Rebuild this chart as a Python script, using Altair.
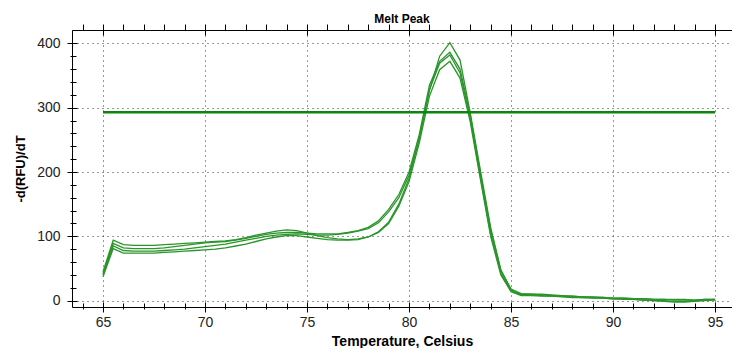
import altair as alt
import pandas as pd

temps = [65, 65.5, 66, 66.5, 67, 67.5, 68, 68.5, 69, 69.5, 70, 70.5, 71, 71.5, 72, 72.5,
         73, 73.5, 74, 74.5, 75, 75.5, 76, 76.5, 77, 77.5, 78, 78.5, 79, 79.5, 80, 80.5,
         81, 81.5, 82, 82.5, 83, 83.5, 84, 84.5, 85, 85.5, 86, 86.5, 87, 87.5, 88, 88.5,
         89, 89.5, 90, 90.5, 91, 91.5, 92, 92.5, 93, 93.5, 94, 94.5, 95]

well_1 = [45, 94, 87, 86, 86, 86, 87, 88, 89, 90, 91, 92, 93, 95, 98, 102,
          105, 108, 110, 109, 105, 101, 98, 96, 95, 96, 99, 107, 122, 150, 190, 252,
          327, 380, 401, 374, 292, 202, 114, 48, 17, 10, 10, 9, 8, 7, 7, 6,
          5, 5, 4, 4, 3, 3, 2, 2, 1, 1, 1, 2, 2]
well_2 = [42, 89, 82, 81, 81, 81, 82, 84, 86, 88, 90, 91, 92, 94, 97, 100,
          103, 105, 106, 106, 105, 104, 104, 104, 106, 109, 114, 124, 142, 165, 200, 258,
          335, 372, 386, 360, 288, 198, 110, 47, 18, 11, 10, 10, 9, 8, 7, 6,
          6, 5, 4, 4, 3, 3, 2, 2, 2, 2, 1, 2, 2]
well_3 = [40, 85, 78, 77, 77, 77, 78, 79, 80, 82, 84, 86, 88, 91, 94, 97,
          100, 102, 103, 104, 103, 102, 102, 103, 105, 108, 112, 121, 138, 160, 195, 252,
          328, 369, 382, 354, 283, 192, 104, 43, 15, 9, 9, 8, 7, 7, 6, 5,
          5, 4, 3, 3, 2, 1, 0, -1, -2, -2, -1, 0, 1]
well_4 = [37, 81, 74, 74, 74, 74, 75, 76, 77, 78, 79, 80, 82, 85, 88, 92,
          96, 99, 101, 101, 99, 97, 95, 94, 94, 95, 99, 106, 120, 147, 185, 245,
          318, 359, 372, 346, 278, 188, 100, 40, 14, 8, 8, 7, 7, 6, 5, 5,
          4, 4, 3, 2, 2, 1, 0, 0, -1, -1, 0, 1, 2]

threshold_start = [65]
threshold_end = [95]
threshold_value = [293]

x_major = [65, 70, 75, 80, 85, 90, 95]
x_minor = list(range(64, 96))
y_major = [0, 100, 200, 300, 400]
y_minor = list(range(0, 420, 20))

rows = []
for name, vals in [("A1", well_1), ("A2", well_2), ("A3", well_3), ("A4", well_4)]:
    for t, v in zip(temps, vals):
        rows.append({"temp": t, "value": v, "well": name})
df = pd.DataFrame(rows)
thr = pd.DataFrame({"t0": threshold_start, "t1": threshold_end, "v": threshold_value})

FONT = "Liberation Sans"
xs = alt.Scale(domain=[63.48, 95.83], nice=False, zero=False)
ys = alt.Scale(domain=[-9.8, 420.7], nice=False, zero=False)

main_x = alt.Axis(orient="bottom", values=x_major, title="Temperature, Celsius",
                  grid=True, gridDash=[1, 4], gridColor="#333", gridWidth=1,
                  ticks=False, tickSize=0, labelPadding=8, domain=True,
                  domainColor="#000", labelFont=FONT, labelFontSize=14, labelColor="#222",
                  titleFont=FONT, titleFontSize=14, titleFontWeight="bold",
                  titleColor="#000", titlePadding=5)
main_y = alt.Axis(orient="left", values=y_major, title="-d(RFU)/dT",
                  grid=True, gridDash=[1, 4], gridColor="#333", gridWidth=1,
                  ticks=False, tickSize=0, labelPadding=12, domain=True,
                  domainColor="#000", labelFont=FONT, labelFontSize=14, labelColor="#222",
                  titleFont=FONT, titleFontSize=13, titleFontWeight="bold",
                  titleColor="#000", titlePadding=9)


def tick_axis(orient, vals, size, offset, domain=False):
    return alt.Axis(orient=orient, values=vals, labels=False, title=None, grid=False,
                    domain=domain, domainColor="#000", ticks=True, tickSize=size,
                    offset=offset, tickColor="#000", tickWidth=1)


lines = alt.Chart(df).mark_line(color="#2a952a", strokeWidth=1.3).encode(
    x=alt.X("temp:Q", scale=xs, axis=main_x),
    y=alt.Y("value:Q", scale=ys, axis=main_y),
    detail="well:N",
)

threshold = alt.Chart(thr).mark_rule(color="#0d850d", strokeWidth=2.5).encode(
    x=alt.X("t0:Q", scale=xs, axis=tick_axis("bottom", x_major, 10, -5)),
    x2="t1:Q",
    y=alt.Y("v:Q", scale=ys, axis=tick_axis("left", y_major, 10, -5)),
)


def ghost(xaxis, yaxis):
    return alt.Chart(thr).mark_point(opacity=0).encode(
        x=alt.X("t0:Q", scale=xs, axis=xaxis),
        y=alt.Y("v:Q", scale=ys, axis=yaxis),
    )


g1 = ghost(tick_axis("bottom", x_minor, 6, -4), tick_axis("left", y_minor, 6, -4))
g2 = ghost(tick_axis("top", x_major, 10, -5, domain=False),
           tick_axis("right", y_major, 0, 0))
g3 = ghost(alt.Axis(orient="top", values=x_minor, labels=False, title=None, grid=False,
                    domain=True, domainColor="#000", ticks=True, tickSize=6, offset=0,
                    tickColor="#000"),
           tick_axis("right", y_minor, 0, 0))

chart = alt.layer(lines, threshold, g1, g2, g3).resolve_axis(
    x="independent", y="independent"
).properties(
    width=660, height=277,
    title=alt.TitleParams("Melt Peak", font=FONT, fontSize=12, fontWeight="bold",
                          color="#000", anchor="middle", offset=0, dy=2),
    autosize=alt.AutoSizeParams(type="none"),
    padding={"left": 64, "top": 22, "right": 0, "bottom": 41},
).configure_view(stroke=None).configure(background="white")

chart.save("out.html", embed_options={"renderer": "svg", "actions": False})
